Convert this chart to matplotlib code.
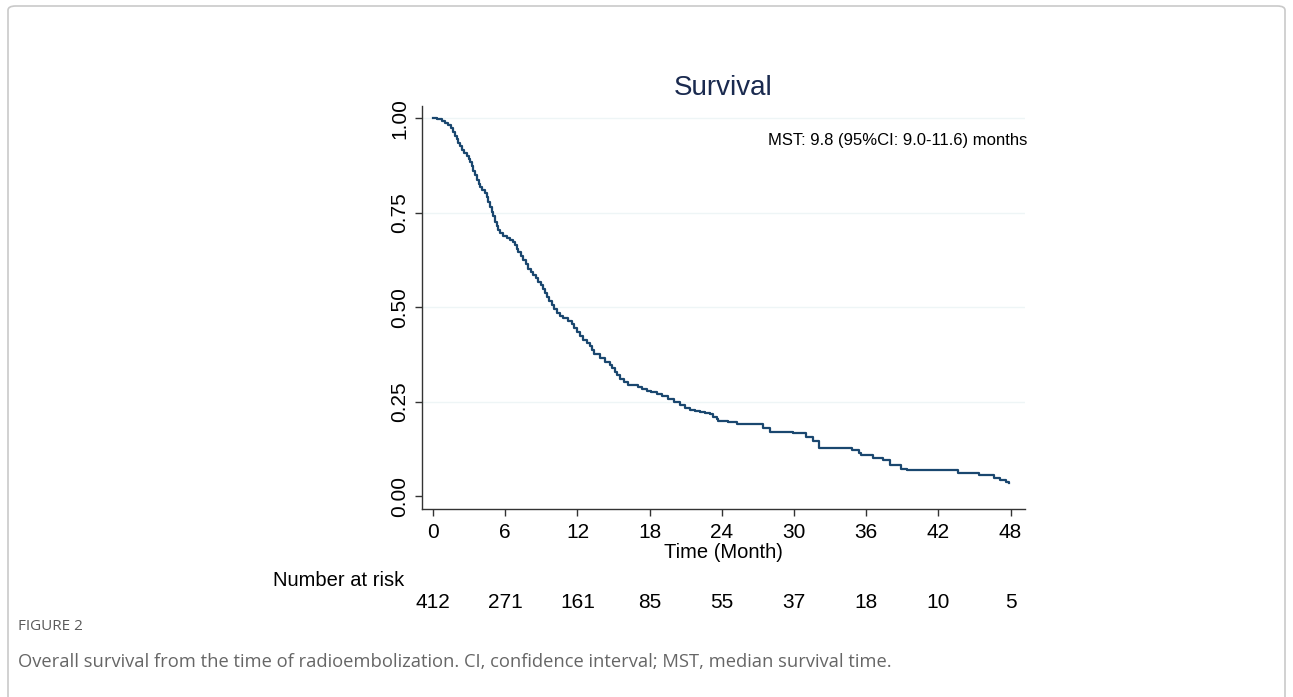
import numpy as np
import matplotlib.pyplot as plt
from matplotlib.patches import FancyBboxPatch
from matplotlib.transforms import blended_transform_factory

# Kaplan-Meier estimate (time in months, survival after each step)
km_time = [0, 0.35, 0.7, 1.0, 1.27, 1.45, 1.65, 1.83, 1.97, 2.1, 2.25, 2.38, 2.6,
           2.8, 2.95, 3.07, 3.2, 3.35, 3.5, 3.63, 3.78, 3.9, 4.1, 4.32, 4.45,
           4.6, 4.75, 4.88, 5.0, 5.15, 5.3, 5.42, 5.6, 5.84, 6.1, 6.4, 6.6,
           6.81, 6.95, 7.09, 7.3, 7.5, 7.7, 7.9, 8.1, 8.33, 8.55, 8.75, 8.95,
           9.16, 9.3, 9.44, 9.65, 9.86, 10.05, 10.27, 10.55, 10.82, 11.2, 11.52,
           11.7, 11.93, 12.2, 12.48, 12.75, 13.04, 13.18, 13.4, 13.87, 14.3,
           14.7, 14.9, 15.11, 15.3, 15.53, 15.85, 16.22, 17.05, 17.4, 17.75,
           18.15, 18.58, 19.05, 19.54, 20.0, 20.51, 20.9, 21.34, 21.75, 22.17,
           22.6, 23.0, 23.3, 23.56, 23.7, 24.52, 25.22, 25.63, 27.43, 27.99,
           29.9, 31.03, 31.6, 32.1, 34.8, 35.4, 35.6, 36.6, 37.4, 38.0, 38.9,
           39.4, 43.6, 45.4, 46.6, 47.1, 47.6, 47.9]
km_surv = [1.0, 0.997, 0.993, 0.988, 0.982, 0.973, 0.963, 0.953, 0.944, 0.935,
           0.925, 0.915, 0.908, 0.900, 0.892, 0.883, 0.872, 0.861, 0.849, 0.837,
           0.826, 0.818, 0.811, 0.803, 0.792, 0.779, 0.765, 0.752, 0.740, 0.726,
           0.714, 0.704, 0.696, 0.689, 0.683, 0.677, 0.671, 0.664, 0.655, 0.646,
           0.635, 0.624, 0.613, 0.602, 0.594, 0.585, 0.576, 0.567, 0.558, 0.549,
           0.538, 0.527, 0.516, 0.505, 0.494, 0.485, 0.477, 0.470, 0.463, 0.456,
           0.446, 0.435, 0.424, 0.413, 0.406, 0.398, 0.386, 0.376, 0.366, 0.356,
           0.347, 0.338, 0.329, 0.320, 0.311, 0.302, 0.294, 0.289, 0.284, 0.279,
           0.275, 0.271, 0.265, 0.258, 0.248, 0.240, 0.234, 0.229, 0.226, 0.222,
           0.219, 0.216, 0.210, 0.205, 0.199, 0.197, 0.192, 0.190, 0.180, 0.170,
           0.166, 0.157, 0.146, 0.127, 0.121, 0.115, 0.109, 0.100, 0.095, 0.082,
           0.073, 0.069, 0.062, 0.055, 0.049, 0.043, 0.037, 0.035]

risk_times = [0, 6, 12, 18, 24, 30, 36, 42, 48]
at_risk = [412, 271, 161, 85, 55, 37, 18, 10, 5]
y_ticks = [0.0, 0.25, 0.5, 0.75, 1.0]

fig = plt.figure(figsize=(12.93, 6.97), dpi=100)
plt.rcParams['font.family'] = ['Liberation Sans', 'DejaVu Sans']

# frame round the whole figure panel
frame = FancyBboxPatch((8 / 1293, -0.05), 1277 / 1293, 1 - 6 / 697 + 0.05,
                       boxstyle="round,pad=0,rounding_size=0.006",
                       transform=fig.transFigure, fill=False,
                       edgecolor='#c9c9c9', linewidth=1.2)
fig.patches.append(frame)

ax = fig.add_axes([421.7 / 1293, 1 - 509 / 697, (1025 - 421.7) / 1293, (509 - 106) / 697])

for g in [0.25, 0.5, 0.75, 1.0]:
    ax.axhline(g, color='#eef5f6', linewidth=1.0, zorder=0)

ax.step(km_time, km_surv, where='post', color='#1a476f', linewidth=1.6)

ax.set_xlim(-0.95, 49.2)
ax.set_ylim(-0.034, 1.032)
ax.set_xticks(risk_times)
ax.set_yticks(y_ticks)
ax.set_yticklabels([f"{v:.2f}" for v in y_ticks])
ax.tick_params(axis='both', direction='out', length=5, width=1, color='#333333',
               labelsize=15, colors='black')
ax.tick_params(axis='x', pad=5)
ax.tick_params(axis='y', pad=4, labelrotation=90)
for lab in ax.get_yticklabels():
    lab.set_va('center')
for side in ['top', 'right']:
    ax.spines[side].set_visible(False)
for side in ['left', 'bottom']:
    ax.spines[side].set_color('#333333')
    ax.spines[side].set_linewidth(1.0)

fig.text(723 / 1293, 1 - 88 / 697, 'Survival', ha='center', va='center',
         fontsize=20, color='#1a2a4f')
fig.text(1027 / 1293, 1 - 141 / 697, 'MST: 9.8 (95%CI: 9.0-11.6) months',
         ha='right', va='center', fontsize=12)
fig.text(723 / 1293, 1 - 553 / 697, 'Time (Month)', ha='center', va='center', fontsize=14.5)

tr = blended_transform_factory(ax.transData, fig.transFigure)
ax.text(-2.4, 1 - 580 / 697, 'Number at risk', ha='right', va='center', fontsize=14.5,
        transform=tr, clip_on=False)
for t, n in zip(risk_times, at_risk):
    ax.text(t, 1 - 602 / 697, str(n), ha='center', va='center', fontsize=15,
            transform=tr, clip_on=False)

fig.text(18 / 1293, 1 - 627 / 697, 'FIGURE 2', ha='left', va='center', fontsize=11,
         color='#5a5a5a', family=['Open Sans', 'DejaVu Sans'])
fig.text(18 / 1293, 1 - 662 / 697,
         'Overall survival from the time of radioembolization. CI, confidence interval; '
         'MST, median survival time.',
         ha='left', va='center', fontsize=13.2, color='#666666',
         family=['Open Sans', 'DejaVu Sans'])

fig.savefig('out.png', dpi=100)
